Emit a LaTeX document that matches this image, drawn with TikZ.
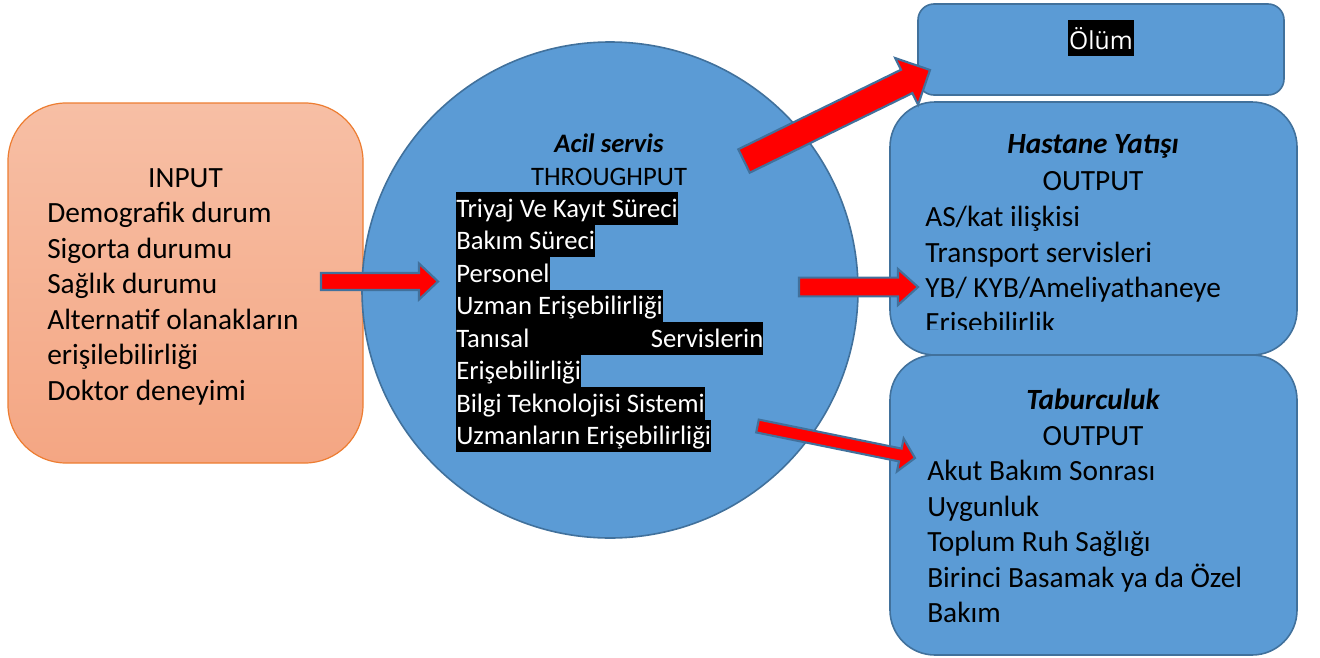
\documentclass[tikz,border=0pt]{standalone}
\usepackage{fontspec}
\setmainfont{Carlito}
\newfontfamily\olumfont{Open Sans}
\usetikzlibrary{calc}
\definecolor{boxblue}{HTML}{5B9BD5}
\definecolor{edgeblue}{HTML}{41719C}
\definecolor{inorange}{HTML}{ED7D31}
\definecolor{intop}{HTML}{F7BFA5}
\definecolor{inbot}{HTML}{F4A683}
\tikzset{
  bluebox/.style={draw=edgeblue, fill=boxblue, line width=1.2pt},
  txt/.style={anchor=base west, inner sep=0pt, font=\fontsize{22pt}{27pt}\selectfont},
  ttl/.style={anchor=base, inner sep=0pt, font=\fontsize{22pt}{27pt}\selectfont},
  ctl/.style={anchor=base, inner sep=0pt, font=\fontsize{20pt}{24pt}\selectfont},
  hl/.style={anchor=north west, inner sep=0pt, fill=black, text=white,
    font=\fontsize{20pt}{24pt}\selectfont, text height=18.75pt, text depth=5.625pt},
  redarrow/.style={draw=edgeblue, fill=red, line width=1.6pt, line join=miter},
}
% #1 start, #2 end, #3 shaft half width, #4 head half width, #5 head length
\newcommand\blockarrow[5]{%
  \path[redarrow] let \p1=(#1), \p2=(#2),
    \n1={atan2(\y2-\y1,\x2-\x1)}, \n2={veclen(\x2-\x1,\y2-\y1)} in
    ($(\p1)+({\n1+90}:#3)$)
    -- ($(\p1)+(\n1:{\n2*1pt-#5})+({\n1+90}:#3)$)
    -- ($(\p1)+(\n1:{\n2*1pt-#5})+({\n1+90}:#4)$)
    -- (\p2)
    -- ($(\p1)+(\n1:{\n2*1pt-#5})+({\n1-90}:#4)$)
    -- ($(\p1)+(\n1:{\n2*1pt-#5})+({\n1-90}:#3)$)
    -- ($(\p1)+({\n1-90}:#3)$) -- cycle;}
\begin{document}
\begin{tikzpicture}[x=0.75pt,y=-0.75pt]
\useasboundingbox (0,0) rectangle (1320,657);
% input box
\node[draw=inorange, line width=0.9pt, top color=intop, bottom color=inbot,
  rounded corners=43.5pt, minimum width=266.25pt, minimum height=270pt] (input) at (185.5,283) {};
% circle
\node[circle, bluebox, minimum size=372pt, inner sep=0pt] (acil) at (610,290) {};
% output boxes
\node[bluebox, rounded corners=12pt, minimum width=274.5pt, minimum height=68.25pt] (olum) at (1101,49.5) {};
\node[bluebox, rounded corners=33.75pt, minimum width=305.25pt, minimum height=189.75pt] (hastane) at (1093.5,228.5) {};
\node[bluebox, rounded corners=33.75pt, minimum width=305.25pt, minimum height=225pt] (taburcu) at (1093.5,505) {};
% input text
\node[ttl] (inT) at (185.5,187) {INPUT};
\node[txt] (in1) at (47,222) {Demografik durum};
\node[txt] (in2) at (47,258) {Sigorta durumu};
\node[txt] (in3) at (47,293) {Sağlık durumu};
\node[txt] (in4) at (47,329) {Alternatif olanakların};
\node[txt] (in5) at (47,364) {erişilebilirliği};
\node[txt] (in6) at (47,400) {Doktor deneyimi};
% circle text
\node[ctl, font=\fontsize{20pt}{24pt}\selectfont\bfseries\itshape] (acT) at (609,152) {Acil servis};
\node[ctl] (acO) at (609,185) {THROUGHPUT};
\node[hl] (ac1) at (456,192) {Triyaj Ve Kayıt Süreci};
\node[hl] (ac2) at (456,224.5) {Bakım Süreci};
\node[hl] (ac3) at (456,257) {Personel};
\node[hl] (ac4) at (456,289.5) {Uzman Erişebilirliği};
\node[hl] (ac5) at (456,322) {\hbox to 230.25pt{Tanısal\hfill Servislerin}};
\node[hl] (ac6) at (456,354.5) {Erişebilirliği};
\node[hl] (ac7) at (456,387) {Bilgi Teknolojisi Sistemi};
\node[hl] (ac8) at (456,419.5) {Uzmanların Erişebilirliği};
% olum text
\node[fill=black, text=white, font=\olumfont\fontsize{18.5pt}{22pt}\selectfont,
  inner xsep=1.2pt, inner ysep=0pt, text height=21.75pt, text depth=5.25pt, anchor=base] (olT) at (1101,49) {Ölüm};
% hastane text
\node[ttl, font=\fontsize{22pt}{27pt}\selectfont\bfseries\itshape] (haT) at (1093,153) {Hastane Yatışı};
\node[ttl] (haO) at (1093,190) {OUTPUT};
\node[txt] (ha1) at (925,226) {AS/kat ilişkisi};
\node[txt] (ha2) at (925,262) {Transport servisleri};
\node[txt] (ha3) at (925,297) {YB/ KYB/Ameliyathaneye};
\begin{scope}
\clip (890,102) rectangle (1297,329.5);
\node[txt] (ha4) at (925,332) {Erişebilirlik};
\end{scope}
% taburculuk text
\node[ttl, font=\fontsize{22pt}{27pt}\selectfont\bfseries\itshape] (taT) at (1093,409) {Taburculuk};
\node[ttl] (taO) at (1093,445) {OUTPUT};
\node[txt] (ta1) at (927,480) {Akut Bakım Sonrası};
\node[txt] (ta2) at (927,516) {Uygunluk};
\node[txt] (ta3) at (927,551) {Toplum Ruh Sağlığı};
\node[txt] (ta4) at (927,587) {Birinci Basamak ya da Özel};
\node[txt] (ta5) at (927,622) {Bakım};
% arrow end points
\coordinate (a1s) at (321,281.5);
\coordinate (a1e) at (438,281.5);
\coordinate (a2s) at (799,287);
\coordinate (a2e) at (918,287);
\coordinate (a3s) at (744,161);
\coordinate (a3e) at (930,70);
\coordinate (a4s) at (757.5,426);
\coordinate (a4e) at (915,458);
\blockarrow{a1s}{a1e}{6.4pt}{13.5pt}{14.25pt}
\blockarrow{a2s}{a2e}{7pt}{13.5pt}{15pt}
\blockarrow{a3s}{a3e}{9.75pt}{19.5pt}{19.5pt}
\blockarrow{a4s}{a4e}{4.9pt}{12.6pt}{11.25pt}
\end{tikzpicture}
\end{document}
